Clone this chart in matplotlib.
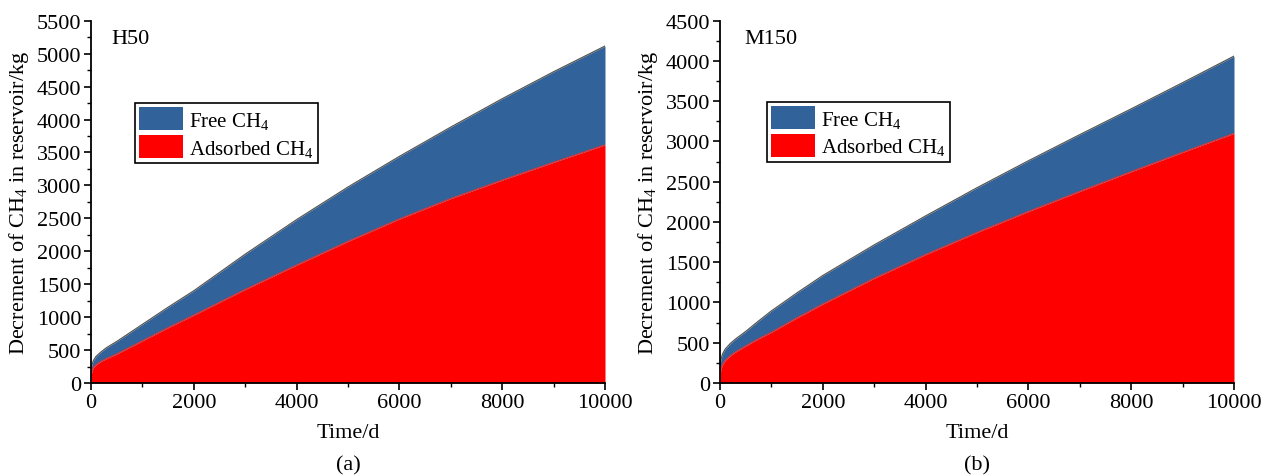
import matplotlib
matplotlib.use("Agg")
import matplotlib.pyplot as plt
from matplotlib.ticker import MultipleLocator
from matplotlib.patches import Patch

plt.rcParams['font.family'] = ['Liberation Serif', 'DejaVu Serif']
plt.rcParams['mathtext.fontset'] = 'custom'
plt.rcParams['mathtext.rm'] = 'Liberation Serif'
plt.rcParams['mathtext.it'] = 'Liberation Serif'
plt.rcParams['mathtext.bf'] = 'Liberation Serif:bold'

# ---- data ----
time_d = [0, 20, 50, 100, 200, 300, 500, 750, 1000, 1500, 2000, 3000,
          4000, 5000, 6000, 7000, 8000, 9000, 10000]

h50_total = [200, 285, 345, 405, 475, 535, 630, 760, 890, 1150, 1400, 1955,
             2480, 2975, 3440, 3885, 4315, 4725, 5115]
h50_adsorbed = [110, 190, 240, 280, 330, 370, 440, 540, 640, 840, 1030, 1420,
                1790, 2150, 2490, 2800, 3080, 3350, 3615]

m150_total = [220, 300, 360, 420, 490, 545, 640, 770, 895, 1120, 1335, 1715,
              2075, 2425, 2760, 3085, 3405, 3730, 4060]
m150_adsorbed = [100, 180, 230, 280, 340, 385, 460, 550, 630, 810, 980, 1300,
                 1595, 1870, 2130, 2380, 2625, 2865, 3100]

panels = [
    dict(name="H50", total=h50_total, ads=h50_adsorbed, ymax=5500, sub="(a)",
         legx=0.0856, legy=0.773, namex=0.04),
    dict(name="M150", total=m150_total, ads=m150_adsorbed, ymax=4500, sub="(b)",
         legx=0.0914, legy=0.776, namex=0.047),
]

blue = "#31639A"
red = "#FF0000"
FS = 16
LFS = 15

fig = plt.figure(figsize=(12.69, 4.77), dpi=100)
lefts = [91 / 1269, 720 / 1269]
for p, left in zip(panels, lefts):
    ax = fig.add_axes([left, 1 - 384 / 477, 514 / 1269, 362.3 / 477])
    ax.fill_between(time_d, 0, p["ads"], color=red, linewidth=0)
    ax.fill_between(time_d, p["ads"], p["total"], color=blue, linewidth=0)
    ax.plot(time_d, p["ads"], color="#E83030", lw=0.8)
    ax.plot(time_d, p["total"], color="#555555", lw=0.9)

    ax.set_xlim(0, 10000)
    ax.set_ylim(0, p["ymax"])
    ax.xaxis.set_major_locator(MultipleLocator(2000))
    ax.xaxis.set_minor_locator(MultipleLocator(1000))
    ax.yaxis.set_major_locator(MultipleLocator(500))
    ax.yaxis.set_minor_locator(MultipleLocator(250))
    for s in ("top", "right"):
        ax.spines[s].set_visible(False)
    for s in ("left", "bottom"):
        ax.spines[s].set_linewidth(1.3)
    ax.tick_params(which="major", direction="out", length=5, width=1.2,
                   labelsize=FS, pad=2)
    ax.tick_params(which="minor", direction="out", length=3, width=1.0)

    ax.set_xlabel("Time/d", fontsize=FS, labelpad=8)
    ax.set_ylabel("Decrement of CH$_4$ in reservoir/kg", fontsize=FS, labelpad=4)
    ax.text(p["namex"], 0.95, p["name"],
            transform=ax.transAxes, fontsize=FS, va="center", ha="left")

    handles = [Patch(facecolor=blue, edgecolor="none", label="Free CH$_4$"),
               Patch(facecolor=red, edgecolor="none", label="Adsorbed CH$_4$")]
    leg = ax.legend(handles=handles, loc="upper left",
                    bbox_to_anchor=(p["legx"], p["legy"]), borderaxespad=0,
                    fontsize=LFS, frameon=True, fancybox=False, framealpha=1,
                    edgecolor="black", handlelength=2.1, handleheight=1.35,
                    handletextpad=0.3, borderpad=0.2, labelspacing=0.2)
    leg.get_frame().set_linewidth(1.2)

    ax.text(0.5, -0.225, p["sub"], transform=ax.transAxes, fontsize=FS,
            ha="center", va="center")

fig.savefig("out.png", dpi=100)
